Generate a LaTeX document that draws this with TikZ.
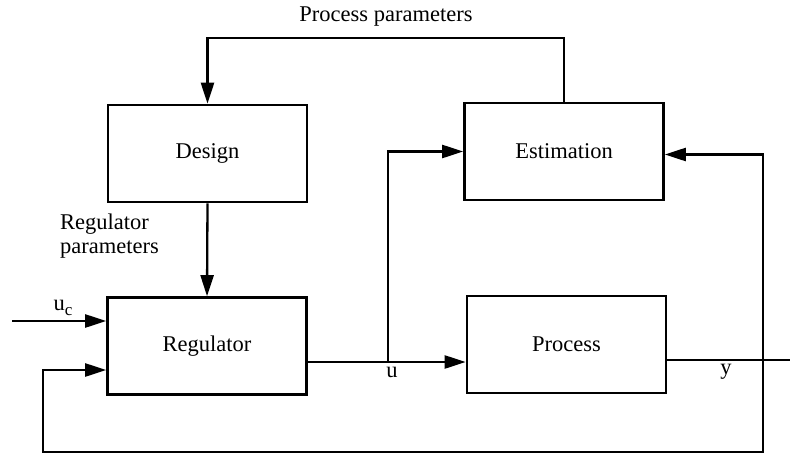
\documentclass[tikz,border=0pt]{standalone}
\usepackage{fontspec}
\setmainfont{Liberation Serif}
\usetikzlibrary{arrows.meta}
\begin{document}
\begin{tikzpicture}[x=1pt,y=-1pt,
  blk/.style={draw,line width=2.6pt,minimum width=199pt,minimum height=97pt,inner sep=0pt,font=\fontsize{22.5}{26}\selectfont},
  conn/.style={line width=2.3pt},
  arr/.style={conn,-{Triangle[length=21pt,width=13pt]}},
  lbl/.style={font=\fontsize{22.5}{24}\selectfont,inner sep=0pt}]
\useasboundingbox (0,0) rectangle (790,458);
\node[blk] (design) at (207.5,153.5) {Design};
\node[blk] (reg) at (207,346) {Regulator};
\node[blk] (est) at (564,151.5) {Estimation};
\node[blk] (proc) at (566.5,344.5) {Process};
\coordinate (top) at (564,38);
\coordinate (ucin) at (12,321);
\coordinate (ubr) at (388,362);
\coordinate (yout) at (790,360);
\coordinate (fb) at (763,360);
\coordinate (fbbot) at (763,452);
\coordinate (fbleft) at (43,452);
\coordinate (regin) at (43,370);
\draw[arr] (est.north) -- (top) -| (design.north);
\draw[arr] (design.south) -- (reg.north);
\draw[arr] (ucin) -- (reg.west |- ucin);
\draw[conn] (reg.east |- ubr) -- (ubr);
\draw[arr] (ubr) -- (proc.west |- ubr);
\draw[arr] (ubr) |- (est.west);
\draw[conn] (proc.east |- yout) -- (yout);
\draw[arr] (fb) |- ([yshift=-3pt]est.east);
\draw[arr] (fb) -- (fbbot) -- (fbleft) -- (regin) -- (reg.west |- regin);
\node[lbl] (pp) at (386,17) {Process parameters};
\node[lbl,align=left,anchor=west] (rp) at (60,236) {Regulator\\parameters};
\node[lbl] (uc) at (63,308) {u\raisebox{-5pt}{\fontsize{17}{17}\selectfont c}};
\node[lbl] (ul) at (392,372) {u};
\node[lbl] (yl) at (726,372) {y};
\end{tikzpicture}
\end{document}
